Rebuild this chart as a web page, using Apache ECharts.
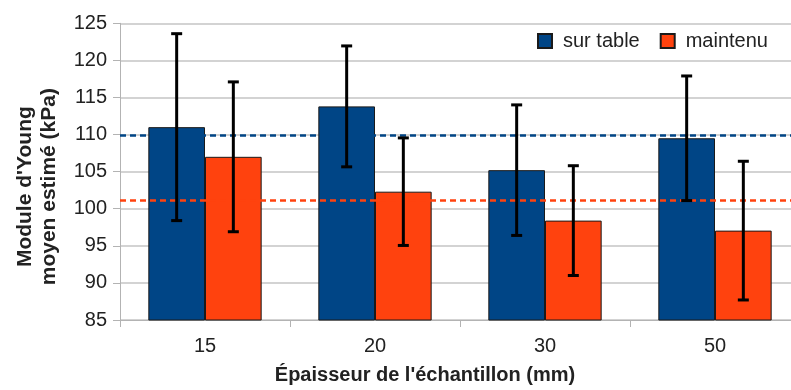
<!DOCTYPE html>
<html>
<head>
<meta charset="utf-8">
<script src="https://cdn.jsdelivr.net/npm/echarts@6/dist/echarts.min.js"></script>
<style>html,body{margin:0;padding:0;background:#fff;overflow:hidden}#wrap{width:791px;height:390px;overflow:hidden;position:relative}#c{width:801px;height:390px;position:absolute;left:0;top:0}</style>
</head>
<body>
<div id="wrap"><div id="c"></div></div>
<script>
var categories = ['15', '20', '30', '50'];
var surTable = [111.0, 113.8, 105.2, 109.5];
var surTableErr = [12.6, 8.15, 8.8, 8.4];
var maintenu = [107.0, 102.3, 98.4, 97.05];
var maintenuErr = [10.1, 7.25, 7.4, 9.35];
var surTableMean = 109.9;
var maintenuMean = 101.2;
var yTicks = [85, 90, 95, 100, 105, 110, 115, 120, 125];

var BLUE = '#004586', ORANGE = '#ff420e';
var FONT = '"Liberation Sans", Arial, sans-serif';

function errData(vals, errs) {
  return vals.map(function (v, i) { return [i, v - errs[i], v + errs[i]]; });
}
function errRender(side) {
  return function (params, api) {
    var bw = api.size([1, 0])[0];
    var lo = api.coord([api.value(0), api.value(1)]);
    var hi = api.coord([api.value(0), api.value(2)]);
    var x = lo[0] + side * bw / 6;
    var cap = 5.5;
    var st = { stroke: '#000', lineWidth: 3 };
    return {
      type: 'group',
      children: [
        { type: 'line', shape: { x1: x, y1: hi[1], x2: x, y2: lo[1] }, style: st },
        { type: 'line', shape: { x1: x - cap, y1: hi[1], x2: x + cap, y2: hi[1] }, style: st },
        { type: 'line', shape: { x1: x - cap, y1: lo[1], x2: x + cap, y2: lo[1] }, style: st }
      ]
    };
  };
}

var chart = echarts.init(document.getElementById('c'), null, { renderer: 'canvas' });
chart.setOption({
  animation: false,
  textStyle: { fontFamily: FONT },
  grid: { left: 120, top: 23.3, width: 680, height: 299.4, containLabel: false },
  legend: {
    data: ['sur table', 'maintenu'],
    left: 532, top: 26,
    itemWidth: 14, itemHeight: 14, itemGap: 20,
    icon: 'rect',
    textStyle: { fontSize: 20, color: '#222', fontFamily: FONT, padding: [0, 0, 0, 6] }
  },
  xAxis: {
    type: 'category',
    data: categories,
    name: "Épaisseur de l'échantillon (mm)",
    nameLocation: 'middle',
    nameGap: 45,
    nameTextStyle: { fontSize: 20, fontWeight: 'bold', color: '#222', fontFamily: FONT, padding: [0, 70, 0, 0] },
    axisLine: { lineStyle: { color: '#b3b3b3', width: 1 } },
    axisTick: { show: true, length: 7, lineStyle: { color: '#b3b3b3' } },
    axisLabel: { fontSize: 20, color: '#222', margin: 16, fontFamily: FONT }
  },
  yAxis: {
    type: 'value',
    min: yTicks[0], max: yTicks[yTicks.length - 1], interval: 5,
    name: "Module d'Young\nmoyen estimé (kPa)",
    nameLocation: 'middle',
    nameRotate: 90,
    nameGap: 59,
    nameTextStyle: { fontSize: 21, fontWeight: 'bold', color: '#222', lineHeight: 24, fontFamily: FONT, padding: [0, 30, 0, 0] },
    axisLine: { show: true, lineStyle: { color: '#b3b3b3', width: 1 } },
    axisTick: { show: true, length: 7, lineStyle: { color: '#b3b3b3' } },
    axisLabel: { fontSize: 20, color: '#222', margin: 13, fontFamily: FONT },
    splitLine: { lineStyle: { color: '#c4c4c4', width: 1.5 } }
  },
  series: [
    {
      name: 'sur table', type: 'bar', data: surTable,
      barGap: '0%', barCategoryGap: '33.33%',
      itemStyle: { color: BLUE, borderColor: '#1a1a1a', borderWidth: 1 },
      emphasis: { disabled: true }
    },
    {
      name: 'maintenu', type: 'bar', data: maintenu,
      barGap: '0%', barCategoryGap: '33.33%',
      itemStyle: { color: ORANGE, borderColor: '#1a1a1a', borderWidth: 1 },
      emphasis: { disabled: true }
    },
    {
      type: 'custom', name: 'err1', data: errData(surTable, surTableErr),
      renderItem: errRender(-1), z: 5, silent: true,
      markLine: {
        silent: true, symbol: 'none', label: { show: false },
        lineStyle: { color: BLUE, type: [6, 4], width: 2.5 },
        data: [{ yAxis: surTableMean }]
      }
    },
    {
      type: 'custom', name: 'err2', data: errData(maintenu, maintenuErr),
      renderItem: errRender(1), z: 5, silent: true,
      markLine: {
        silent: true, symbol: 'none', label: { show: false },
        lineStyle: { color: ORANGE, type: [6, 4], width: 2.5 },
        data: [{ yAxis: maintenuMean }]
      }
    }
  ]
});
</script>
</body>
</html>
